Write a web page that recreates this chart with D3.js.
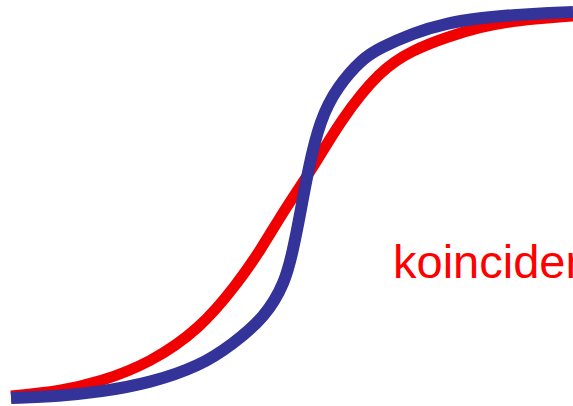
<!DOCTYPE html>
<html>
<head>
<meta charset="utf-8">
<script src="https://cdn.jsdelivr.net/npm/d3@7/dist/d3.min.js"></script>
<style>
  html, body { margin: 0; padding: 0; background: #fff; overflow: hidden; }
  svg { display: block; }
</style>
</head>
<body>
<script>
// Data (x and y in 0..100 units)
const redX  = [0, 8.72, 15.84, 24.73, 33.63, 40.21, 44.31, 48.93, 53.74, 58.54, 65.66, 71.53, 77.58, 83.45, 89.32, 95.02, 100];
const redY  = [0.5, 1.81, 4.15, 9.07, 17.88, 29.53, 38.08, 49.48, 59.59, 71.76, 84.97, 90.16, 93.52, 96.11, 97.67, 98.45, 98.96];
const blueX = [0, 8.72, 15.84, 24.73, 33.63, 39.5, 45.2, 48.75, 50.18, 51.42, 52.85, 54.98, 58.01, 62.63, 65.66, 71.53, 77.58, 83.45, 89.32, 95.02, 100];
const blueY = [0, 0.52, 1.55, 3.89, 8.29, 13.99, 20.98, 29.79, 38.34, 47.41, 59.07, 72.02, 80.57, 88.08, 90.67, 94.56, 97.15, 98.45, 99.22, 99.74, 100];
const label = "koincidence";

const W = 573, H = 406;
const svg = d3.select("body").append("svg").attr("width", W).attr("height", H);

const x = d3.scaleLinear().domain([0, 100]).range([11, 573]);
const y = d3.scaleLinear().domain([0, 100]).range([398, 12]);

const mk = d3.line().x(d => x(d[0])).y(d => y(d[1])).curve(d3.curveBasis);

const red = redX.map((v, i) => [v, redY[i]]);
const blue = blueX.map((v, i) => [v, blueY[i]]);

svg.append("path").attr("d", mk(red))
  .attr("fill", "none").attr("stroke", "#f00000").attr("stroke-width", 11);
svg.append("path").attr("d", mk(blue))
  .attr("fill", "none").attr("stroke", "#333399").attr("stroke-width", 12);

svg.append("text").attr("x", 393).attr("y", 278)
  .attr("font-family", "Liberation Sans, Arial, sans-serif")
  .attr("font-size", 47).attr("fill", "#ff0000").text(label);
</script>
</body>
</html>
